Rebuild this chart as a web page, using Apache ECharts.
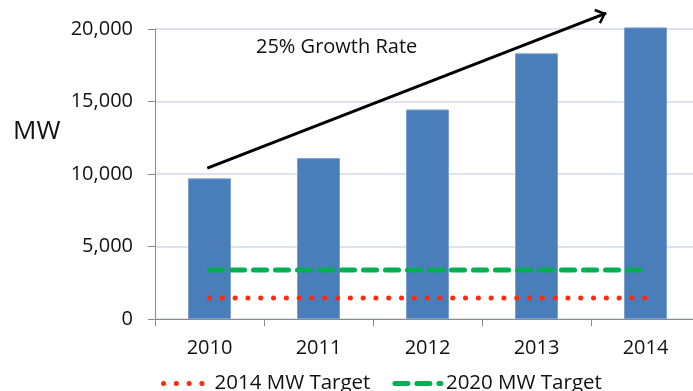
<!DOCTYPE html>
<html>
<head>
<meta charset="utf-8">
<script src="https://cdn.jsdelivr.net/npm/echarts@6/dist/echarts.min.js"></script>
<style>
  html, body { margin: 0; padding: 0; background: #fff; }
  #main { width: 693px; height: 391px; }
</style>
</head>
<body>
<div id="main"></div>
<script>
// chart data
var years = ['2010', '2011', '2012', '2013', '2014'];
var capacityMW = [9700, 11100, 14450, 18320, 20110];
var target2014 = [1450, 1450, 1450, 1450, 1450];
var target2020 = [3380, 3380, 3380, 3380, 3380];
var yTicks = [0, 5000, 10000, 15000, 20000];
// growth arrow, [category position, MW]
var arrowStart = [-0.02, 10400];
var arrowEnd = [3.64, 21100];

var font = '"Open Sans", "Liberation Sans", sans-serif';
// open chevron head, points up before rotation
var chevron = 'path://M0,11 L10,0 L20,11 L17.6,13 L10,4.6 L2.4,13 Z';
var headSize = [16, 10.4];

var gridTop = 29, gridBottom = 72;
var plotH = 391 - gridTop - gridBottom;
// annotation grid reaches the top edge, same MW per pixel
var annoMax = yTicks[yTicks.length - 1] * (plotH + gridTop) / plotH;

var myChart = echarts.init(document.getElementById('main'));

function arrowData(rot, off) {
    return [arrowStart, {
        value: arrowEnd,
        symbol: chevron,
        symbolSize: headSize,
        symbolRotate: rot,
        symbolOffset: off,
        itemStyle: { color: '#000', opacity: 1 }
    }];
}

var option = {
    animation: false,
    backgroundColor: '#fff',
    grid: [{
        left: 155,
        right: -7,
        top: gridTop,
        bottom: gridBottom,
        outerBoundsMode: 'none'
    }, {
        left: 155,
        right: -7,
        top: 0,
        bottom: gridBottom,
        outerBoundsMode: 'none'
    }],
    graphic: [{
        type: 'text',
        left: 13,
        top: 119,
        style: { text: 'MW', fontSize: 26, fontFamily: font, fill: '#111' }
    }, {
        type: 'text',
        left: 256,
        top: 37,
        style: { text: '25% Growth Rate', fontSize: 20, fontFamily: font, fill: '#111' }
    }],
    legend: {
        top: 368,
        left: 156,
        itemGap: 22,
        itemWidth: 46,
        itemHeight: 10,
        itemStyle: { opacity: 0 },
        lineStyle: { width: 5 },
        textStyle: { fontSize: 20.5, fontFamily: font, color: '#111' },
        data: ['2014 MW Target', '2020 MW Target']
    },
    xAxis: [{
        type: 'category',
        gridIndex: 0,
        data: years,
        axisLine: { lineStyle: { color: '#8c8c8c', width: 1 } },
        axisTick: { show: true, length: 7, lineStyle: { color: '#8c8c8c' } },
        axisLabel: { fontSize: 20, fontFamily: font, color: '#111', margin: 19 }
    }, {
        // hidden axis for the arrow annotation
        type: 'value',
        gridIndex: 1,
        min: -0.5,
        max: years.length - 0.5,
        show: false
    }],
    yAxis: [{
        type: 'value',
        gridIndex: 0,
        min: yTicks[0],
        max: yTicks[yTicks.length - 1],
        interval: yTicks[1] - yTicks[0],
        axisLine: { show: true, onZero: false, lineStyle: { color: '#8c8c8c', width: 1 } },
        axisTick: { show: true, length: 7, lineStyle: { color: '#8c8c8c' } },
        axisLabel: {
            fontSize: 20, fontFamily: font, color: '#111', margin: 22,
            formatter: function (v) { return v.toLocaleString('en-US'); }
        },
        splitLine: { lineStyle: { color: '#dce3ec', width: 2 } }
    }, {
        type: 'value',
        gridIndex: 1,
        min: 0,
        max: annoMax,
        show: false,
        splitLine: { show: false }
    }],
    series: [{
        name: 'MW',
        type: 'bar',
        data: capacityMW,
        barWidth: 43,
        clip: false,
        itemStyle: { color: '#4a7ebb', borderColor: '#7aa2d0', borderWidth: 1 }
    }, {
        name: '2014 MW Target',
        type: 'line',
        data: target2014,
        symbol: 'none',
        itemStyle: { color: '#ff2a0a' },
        lineStyle: { color: '#ff2a0a', width: 5, type: [0.1, 12.7], cap: 'round' }
    }, {
        name: '2020 MW Target',
        type: 'line',
        data: target2020,
        symbol: 'none',
        itemStyle: { color: '#00b050' },
        lineStyle: { color: '#00b050', width: 5, type: [13, 9], cap: 'round' }
    }, {
        id: 'growth',
        name: 'growth',
        type: 'line',
        xAxisIndex: 1,
        yAxisIndex: 1,
        data: arrowData(0, [0, 0]),
        symbol: 'emptyCircle',
        symbolSize: 0,
        showSymbol: true,
        clip: false,
        itemStyle: { color: '#000' },
        lineStyle: { color: '#000', width: 3 }
    }]
};

myChart.setOption(option);

// point the arrow head along the shaft, tip on the end point
var p0 = myChart.convertToPixel({ xAxisIndex: 1, yAxisIndex: 1 }, arrowStart);
var p1 = myChart.convertToPixel({ xAxisIndex: 1, yAxisIndex: 1 }, arrowEnd);
var dx = p1[0] - p0[0], dy = p1[1] - p0[1];
var len = Math.sqrt(dx * dx + dy * dy);
var ux = dx / len, uy = dy / len;
var rot = -(Math.atan2(ux, -uy) * 180 / Math.PI);
var half = headSize[1] / 2;
myChart.setOption({
    series: [{ id: 'growth', data: arrowData(rot, [-ux * half, -uy * half]) }]
});
</script>
</body>
</html>
